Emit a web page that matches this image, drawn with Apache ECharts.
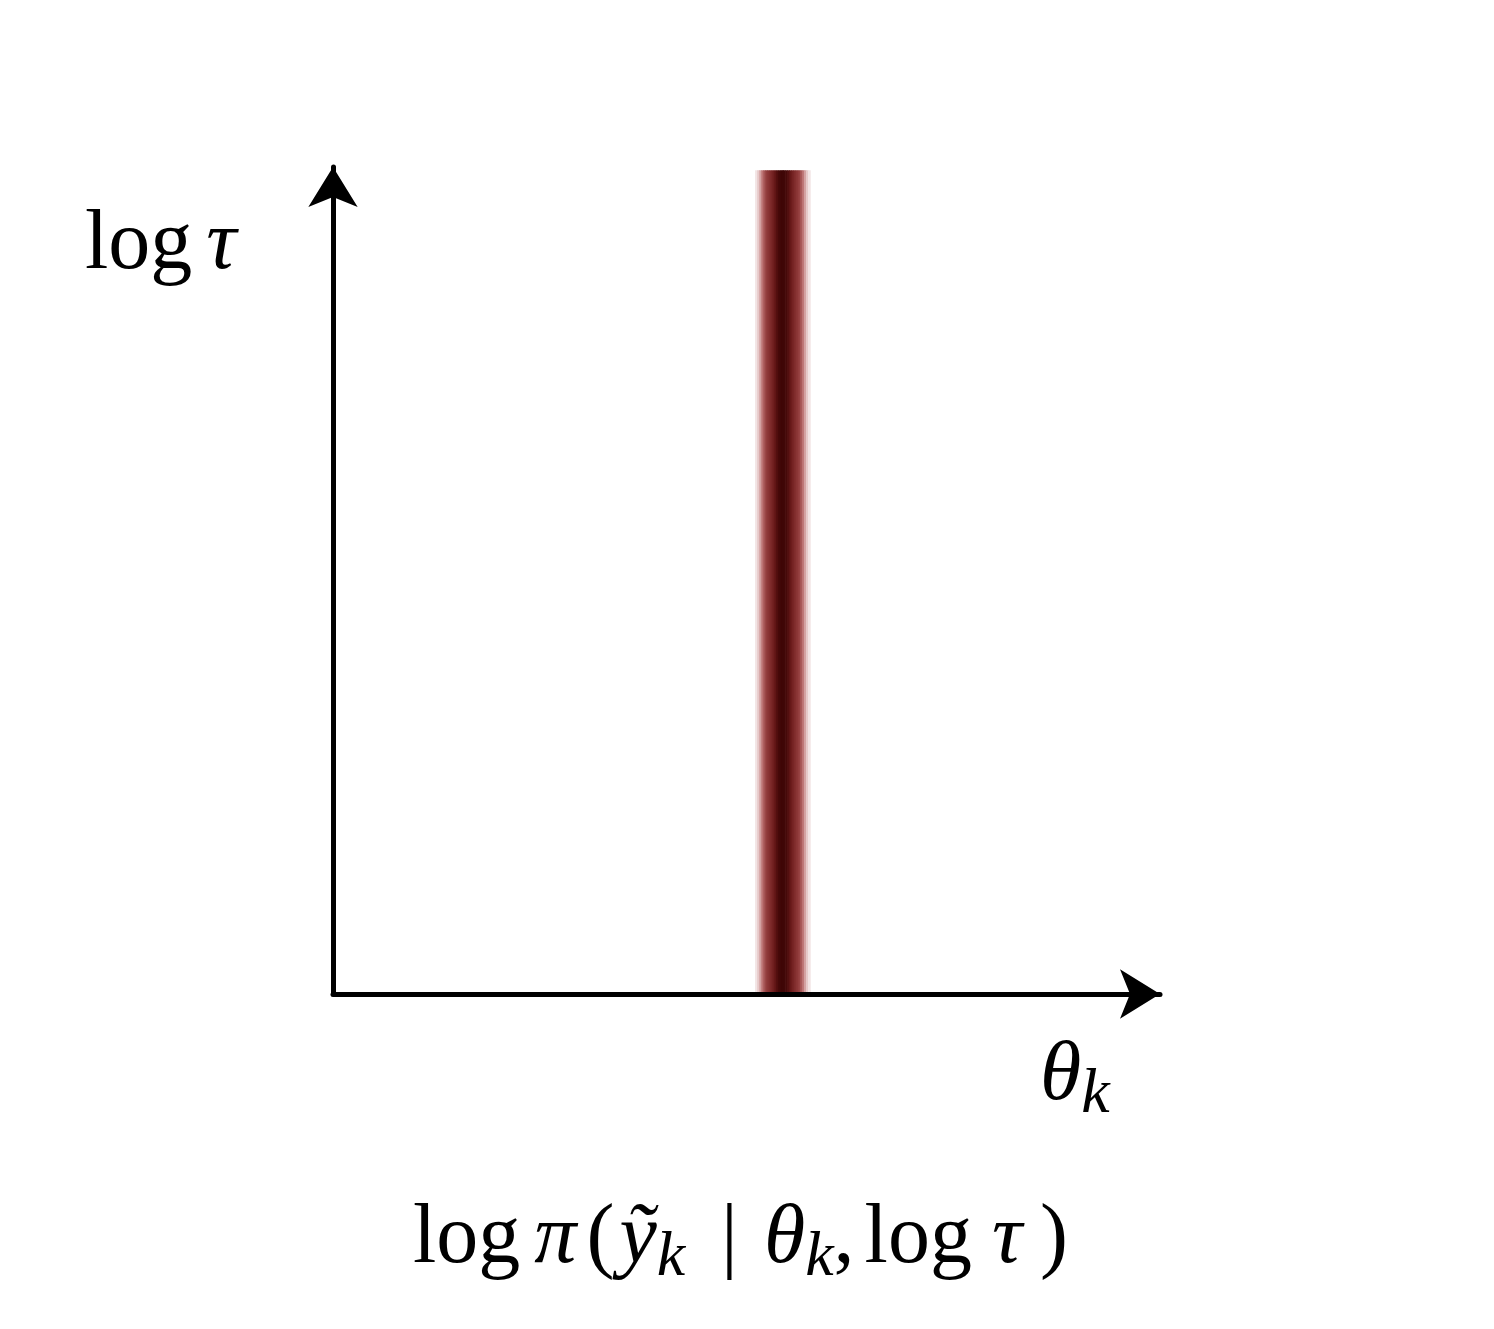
<!DOCTYPE html>
<html>
<head>
<meta charset="utf-8">
<script src="https://cdn.jsdelivr.net/npm/echarts@6/dist/echarts.min.js"></script>
<style>
  html, body { margin: 0; padding: 0; background: #ffffff; }
  #chart { width: 1494px; height: 1329px; }
</style>
</head>
<body>
<div id="chart"></div>
<script>
// ---- data ----
var thetaValues = [5.12, 5.145, 5.17, 5.195, 5.22, 5.245, 5.27, 5.295, 5.32, 5.345, 5.37, 5.395, 5.42, 5.44,
                   5.46, 5.485, 5.51, 5.535, 5.56, 5.585, 5.61, 5.635, 5.66, 5.685, 5.71, 5.735, 5.76];
var densityValues = [0.02, 0.04, 0.07, 0.11, 0.17, 0.25, 0.34, 0.46, 0.58, 0.70, 0.82, 0.92, 0.98, 1.00,
                     0.98, 0.92, 0.82, 0.70, 0.58, 0.46, 0.34, 0.25, 0.17, 0.11, 0.07, 0.04, 0.02];
var logTauRange = [0, 9.96];
var thetaRange = [0, 10];
var logTauAxisRange = [0, 10];
var columnWidth = 0.025;

var bandData = thetaValues.map(function (t, i) { return [t, densityValues[i]]; });

var chart = echarts.init(document.getElementById('chart'), null, { renderer: 'canvas' });

var serifUp = '"Liberation Serif", "DejaVu Serif", serif';
var mainSize = 84;
var subSize = 64;
var rich = {
  r: { fontFamily: serifUp, fontSize: mainSize, lineHeight: 100, color: '#000' },
  i: { fontFamily: serifUp, fontStyle: 'italic', fontSize: mainSize, lineHeight: 100, color: '#000' },
  s: { fontFamily: serifUp, fontStyle: 'italic', fontSize: subSize, lineHeight: 62, verticalAlign: 'bottom', color: '#000' },
  g5: { fontSize: mainSize, lineHeight: 100, width: 5 },
  g10: { fontSize: mainSize, lineHeight: 100, width: 10 },
  g14: { fontSize: mainSize, lineHeight: 100, width: 14 },
  g18: { fontSize: mainSize, lineHeight: 100, width: 18 },
  g20: { fontSize: mainSize, lineHeight: 100, width: 20 },
  g26: { fontSize: mainSize, lineHeight: 100, width: 26 },
  g36: { fontSize: mainSize, lineHeight: 100, width: 36 }
};

var axisCommon = {
  type: 'value',
  axisLabel: { show: false },
  axisTick: { show: false },
  splitLine: { show: false },
  z: 10,
  axisLine: {
    show: true,
    onZero: false,
    symbol: ['none', 'arrow'],
    symbolSize: [37, 40],
    symbolOffset: [0, 0],
    lineStyle: { color: '#000000', width: 5 }
  }
};

var option = {
  backgroundColor: '#ffffff',
  animation: false,
  grid: { left: 333, top: 167, width: 827, height: 827, containLabel: false },
  xAxis: Object.assign({}, axisCommon, { min: thetaRange[0], max: thetaRange[1] }),
  yAxis: Object.assign({}, axisCommon, { min: logTauAxisRange[0], max: logTauAxisRange[1] }),
  visualMap: {
    show: false,
    type: 'continuous',
    dimension: 1,
    seriesIndex: 0,
    min: 0,
    max: 1,
    inRange: {
      color: ['#ffffff', '#c07878', '#9a4444', '#8c3636', '#843030', '#7c2828',
              '#722020', '#661818', '#561010', '#480a0a', '#3e0606']
    }
  },
  series: [{
    type: 'custom',
    data: bandData,
    renderItem: function (params, api) {
      var t = api.value(0);
      var p0 = api.coord([t - columnWidth / 2, logTauRange[1]]);
      var p1 = api.coord([t + columnWidth / 2, logTauRange[0]]);
      return {
        type: 'rect',
        shape: { x: p0[0] - 0.3, y: p0[1], width: p1[0] - p0[0] + 0.6, height: p1[1] - p0[1] },
        style: { fill: api.visual('color') }
      };
    }
  }],
  graphic: [
    {
      type: 'text', x: 85, y: 246,
      style: { text: '{r|log}{g14|}{i|τ}', rich: rich, verticalAlign: 'middle', align: 'left' }
    },
    {
      type: 'text', x: 1040, y: 1077,
      style: { text: '{i|θ}{s|k}', rich: rich, verticalAlign: 'middle', align: 'left' }
    },
    {
      type: 'text', x: 413, y: 1240,
      style: {
        text: '{r|log}{g14|}{i|π}{g10|}{r|(}{g5|}{i|ỹ}{s|k}{g36|}{r||}{g26|}{i|θ}{s|k}{r|,}{g10|}{r|log}{g20|}{i|τ}{g18|}{r|)}',
        rich: rich, verticalAlign: 'middle', align: 'left'
      }
    }
  ]
};

chart.setOption(option);
</script>
</body>
</html>
